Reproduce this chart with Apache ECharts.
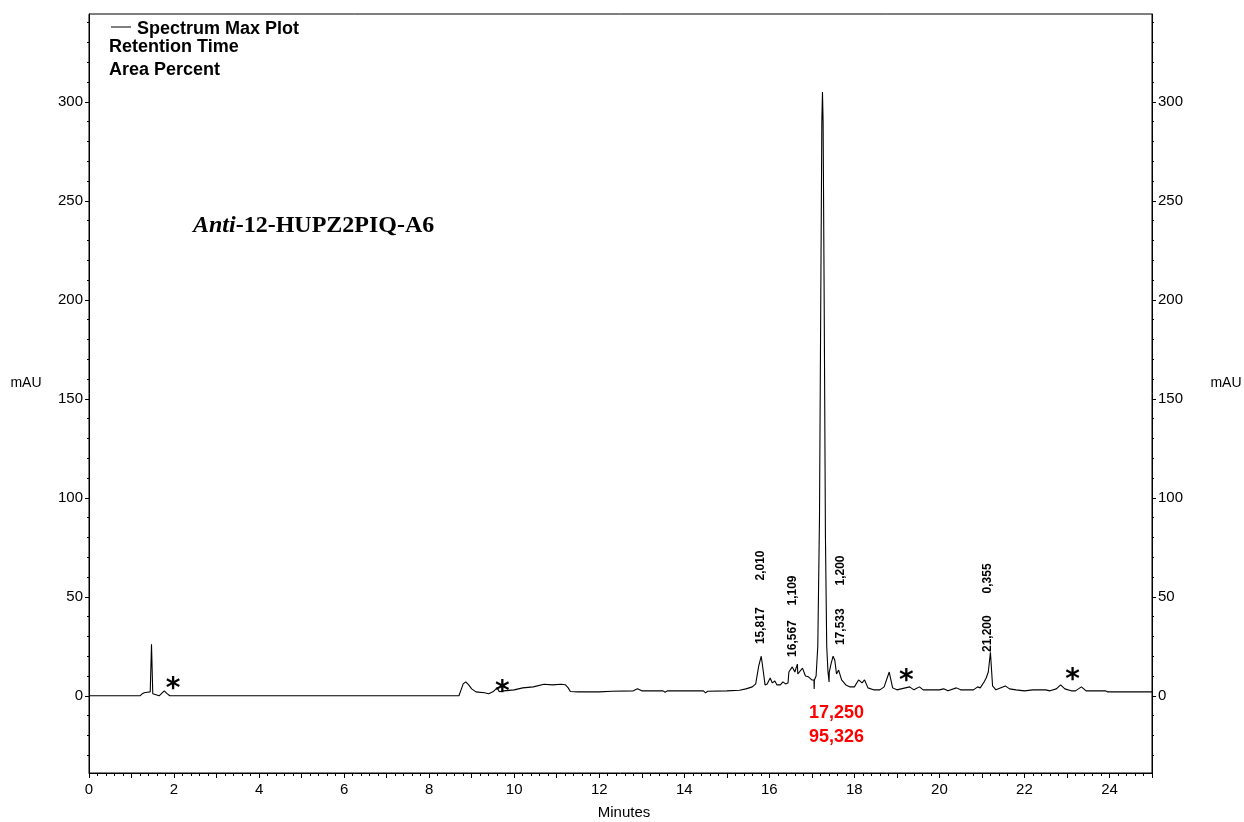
<!DOCTYPE html>
<html>
<head>
<meta charset="utf-8">
<script src="https://cdn.jsdelivr.net/npm/echarts@6/dist/echarts.min.js"></script>
<style>
html,body{margin:0;padding:0;background:#fff;}
#chart{width:1244px;height:822px;}
</style>
</head>
<body>
<div id="chart"></div>
<script>
// trace: [retention time (min), absorbance (mAU)]
var trace = [
  [0,0],[1.2,0],[1.25,1.0],[1.3,1.5],[1.33,1.0],[1.37,1.8],[1.4,1.2],[1.44,2.0],[1.47,26],[1.50,1.0],[1.52,0],
  [1.65,0],[1.72,1.5],[1.77,2.5],[1.83,1.2],[1.9,0],
  [8.7,0],[8.75,3],[8.8,6],[8.86,7],[8.93,5.5],[9.0,3.5],[9.1,2],[9.3,1.5],[9.4,1],[9.5,2],[9.6,4],[9.65,2],
  [9.75,2.5],[10.0,3],[10.2,4],[10.45,4.5],[10.7,5.8],[10.9,5.5],[11.1,5.8],[11.2,5.6],[11.27,4],[11.32,2.2],
  [11.5,2],[12.0,2],[12.3,2.3],[12.8,2.5],[12.9,3.5],[13.0,2.5],[13.5,2.5],[13.55,1.8],[13.6,2.5],[14.0,2.5],
  [14.45,2.5],[14.5,1.5],[14.55,2.3],[15.0,2.5],[15.3,2.8],[15.45,3.5],[15.6,4.5],[15.68,6],[15.75,15],
  [15.81,20],[15.86,12],[15.9,5.5],[15.95,6],[16.02,9],[16.07,6.5],[16.13,7.5],[16.18,5.5],[16.26,5.5],
  [16.32,7],[16.38,6],[16.44,6.5],[16.45,6.5],[16.46,12],[16.54,14.6],[16.6,12],[16.64,12.5],[16.66,16],
  [16.67,11],[16.78,14],[16.85,10],[16.92,9.6],[17.0,8],[17.05,8],[17.055,3.5],[17.06,8],[17.10,10],
  [17.14,25],[17.18,90],[17.21,200],[17.235,290],[17.25,305],[17.265,290],[17.29,200],[17.32,80],[17.35,25],
  [17.38,12],[17.4,11.5],[17.405,7],[17.41,12],[17.45,16],[17.5,20],[17.54,18],[17.58,11],[17.63,13],
  [17.7,8],[17.8,5.5],[17.9,4.5],[18.0,4.5],[18.1,8],[18.18,6.5],[18.24,8],[18.32,4],[18.45,3],[18.6,3],
  [18.7,4.5],[18.82,12],[18.9,4],[19.0,3],[19.1,3.5],[19.3,4.5],[19.4,3],[19.53,4.5],[19.62,3],[20.0,3],
  [20.1,3.5],[20.2,2.5],[20.4,4],[20.5,3],[20.8,3],[20.9,4.5],[20.96,4],[21.05,7],[21.1,9],[21.15,12],
  [21.2,22],[21.25,5],[21.33,3],[21.55,5],[21.65,3.5],[21.8,3],[22.0,2.5],[22.2,3],[22.5,3],[22.6,2.5],
  [22.75,3.5],[22.85,5.5],[22.95,3.5],[23.1,2.5],[23.2,2.5],[23.34,4.5],[23.45,2.5],[23.6,2.5],[23.9,2.5],
  [23.95,2],[24.0,2],[25.0,2]
];

// integrated peaks: retention time and area percent
var peakRT   = [15.817, 16.567, 17.533, 21.200];
var peakArea = [2.010, 1.109, 1.200, 0.355];
var mainRT   = 17.250;
var mainArea = 95.326;

// asterisk markers
var starRT  = [1.98, 9.72, 19.22, 23.13];
var starMAU = [6.6, 5.0, 10.6, 11.0];

// axis tick labels
var xTicks = [0, 2, 4, 6, 8, 10, 12, 14, 16, 18, 20, 22, 24];
var yTicks = [0, 50, 100, 150, 200, 250, 300];

// where the rotated peak texts sit: [x (min), rt text (mAU), area text (mAU)]
var labelPos = [[15.79, 35.4, 65.8], [16.56, 28.9, 53.2], [17.69, 34.9, 63.3], [21.13, 31.4, 59.3]];

function fmt(v) { return v.toFixed(3).replace('.', ','); }

var minutes = [], fifths = [], tens = [];
for (var i = 0; i <= 25; i++) minutes.push(i);
for (var j = 0; j <= 125; j++) fifths.push(+(j * 0.2).toFixed(1));
for (var k = -30; k <= 340; k += 10) tens.push(k);

var FONT = 'Liberation Sans, Arial, sans-serif';

var labelData = [];
peakRT.forEach(function (t, n) {
  var p = labelPos[n];
  labelData.push({ value: [p[0], p[1]], label: { formatter: fmt(t) } });
  labelData.push({ value: [p[0], p[2]], label: { formatter: fmt(peakArea[n]) } });
});

var redData = [
  { value: [17.58, -8.6], label: { formatter: fmt(mainRT) } },
  { value: [17.58, -20.8], label: { formatter: fmt(mainArea) } }
];

var starData = starRT.map(function (t, n) { return [t, starMAU[n]]; });

var chart = echarts.init(document.getElementById('chart'));

function yAx(pos, major) {
  return {
    type: 'value', position: pos, min: -39, max: 344.4,
    axisLine: { show: major, onZero: false, lineStyle: { color: '#000', width: 1 } },
    axisTick: { show: true, length: major ? 4 : 2, customValues: major ? yTicks : tens,
                lineStyle: { color: '#000' } },
    axisLabel: { show: major, customValues: yTicks, margin: 6, color: '#000',
                 fontFamily: FONT, fontSize: 15 },
    splitLine: { show: false }
  };
}

chart.setOption({
  animation: false,
  backgroundColor: '#fff',
  grid: { left: 89, right: 92, top: 14, bottom: 49, show: true, borderColor: '#000', borderWidth: 1 },
  xAxis: [
    {
      type: 'value', position: 'bottom', min: 0, max: 25,
      axisLine: { onZero: false, lineStyle: { color: '#000', width: 1 } },
      axisTick: { length: 5, customValues: minutes, lineStyle: { color: '#000' } },
      axisLabel: { customValues: xTicks, margin: 9, color: '#000', fontFamily: FONT, fontSize: 15 },
      splitLine: { show: false }
    },
    {
      type: 'value', position: 'bottom', min: 0, max: 25,
      axisLine: { show: false, onZero: false },
      axisTick: { length: 3, customValues: fifths, lineStyle: { color: '#000' } },
      axisLabel: { show: false },
      splitLine: { show: false }
    }
  ],
  yAxis: [yAx('left', true), yAx('left', false), yAx('right', true), yAx('right', false)],
  series: [
    {
      type: 'line', data: trace, showSymbol: false, symbol: 'none',
      lineStyle: { color: '#000', width: 1.1 }, z: 3
    },
    {
      type: 'scatter', data: labelData, symbolSize: 0, silent: true, itemStyle: { opacity: 1 },
      label: { show: true, position: 'inside', rotate: 90, color: '#000', opacity: 1,
               fontFamily: FONT, fontWeight: 'bold', fontSize: 12 }
    },
    {
      type: 'scatter', data: redData, symbolSize: 0, silent: true, itemStyle: { opacity: 1 },
      label: { show: true, position: 'inside', color: '#ff0000', opacity: 1,
               fontFamily: FONT, fontWeight: 'bold', fontSize: 18 }
    },
    {
      type: 'scatter', data: starData, symbolSize: 0, silent: true, itemStyle: { opacity: 1 },
      label: { show: true, position: 'inside', formatter: '*', offset: [0, 7], color: '#000', opacity: 1,
               fontFamily: 'DejaVu Sans, sans-serif', fontWeight: 'bold', fontSize: 28 }
    }
  ],
  graphic: [
    { type: 'line', shape: { x1: 111, y1: 27, x2: 131, y2: 27 }, style: { stroke: '#000', lineWidth: 1 } },
    { type: 'text', x: 137, y: 29, style: { text: 'Spectrum Max Plot', font: 'bold 18px ' + FONT, fill: '#000', textVerticalAlign: 'middle' } },
    { type: 'text', x: 109, y: 47, style: { text: 'Retention Time', font: 'bold 18px ' + FONT, fill: '#000', textVerticalAlign: 'middle' } },
    { type: 'text', x: 109, y: 70, style: { text: 'Area Percent', font: 'bold 18px ' + FONT, fill: '#000', textVerticalAlign: 'middle' } },
    {
      type: 'text', x: 193, y: 226,
      style: {
        text: '{i|Anti}{b|-12-HUPZ2PIQ-A6}', textVerticalAlign: 'middle', fill: '#000',
        rich: {
          i: { fontFamily: 'Liberation Serif, serif', fontStyle: 'italic', fontWeight: 'bold', fontSize: 24, fill: '#000' },
          b: { fontFamily: 'Liberation Serif, serif', fontWeight: 'bold', fontSize: 24, fill: '#000' }
        }
      }
    },
    { type: 'text', x: 26, y: 383, style: { text: 'mAU', font: '14px ' + FONT, fill: '#000', textAlign: 'center', textVerticalAlign: 'middle' } },
    { type: 'text', x: 1226, y: 383, style: { text: 'mAU', font: '14px ' + FONT, fill: '#000', textAlign: 'center', textVerticalAlign: 'middle' } },
    { type: 'text', x: 624, y: 813, style: { text: 'Minutes', font: '15px ' + FONT, fill: '#000', textAlign: 'center', textVerticalAlign: 'middle' } }
  ]
});
</script>
</body>
</html>
